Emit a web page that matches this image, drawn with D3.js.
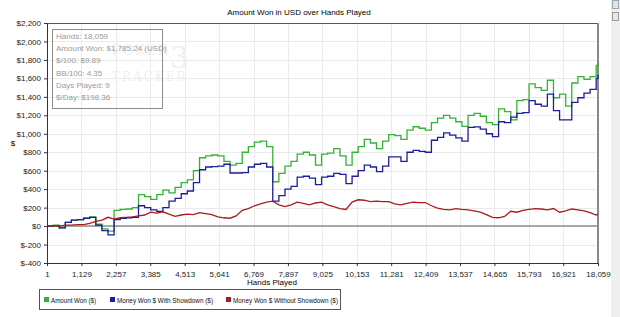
<!DOCTYPE html>
<html>
<head>
<meta charset="utf-8">
<script src="https://cdn.jsdelivr.net/npm/d3@7"></script>
<style>
  body { margin: 0; background: #fff; }
  text { font-family: "Liberation Sans", Arial, sans-serif; }
</style>
</head>
<body>
<div id="chart"></div>
<script>
// hands played (x grid, every 200 hands)
var hands = [1, 200, 400, 600, 800, 1000, 1200, 1400, 1600, 1800,
    2000, 2200, 2400, 2600, 2800, 3000, 3200, 3400, 3600, 3800,
    4000, 4200, 4400, 4600, 4800, 5000, 5200, 5400, 5600, 5800,
    6000, 6200, 6400, 6600, 6800, 7000, 7200, 7400, 7600, 7800,
    8000, 8200, 8400, 8600, 8800, 9000, 9200, 9400, 9600, 9800,
    10000, 10200, 10400, 10600, 10800, 11000, 11200, 11400, 11600, 11800,
    12000, 12200, 12400, 12600, 12800, 13000, 13200, 13400, 13600, 13800,
    14000, 14200, 14400, 14600, 14800, 15000, 15200, 15400, 15600, 15800,
    16000, 16200, 16400, 16600, 16800, 17000, 17200, 17400, 17600, 17800,
    18000, 18059];

var amountWon = [0, 10, -20, 40, 65, 70, 85, 100, 20, -30,
    -55, 170, 180, 185, 200, 340, 320, 290, 340, 390,
    360, 420, 470, 500, 600, 740, 760, 770, 760, 700,
    660, 680, 800, 860, 910, 920, 860, 480, 570, 650,
    700, 780, 800, 770, 660, 780, 790, 840, 760, 660,
    800, 860, 940, 900, 840, 920, 990, 980, 940, 1040,
    1076, 1060, 1040, 1120, 1170, 1200, 1170, 1130, 1080, 1200,
    1220, 1190, 1120, 1100, 1270, 1240, 1150, 1360, 1370, 1540,
    1500, 1470, 1580, 1390, 1430, 1300, 1550, 1620, 1590, 1620,
    1740, 1785.24];

var withShowdown = [0, 5, -20, 40, 65, 70, 85, 95, 10, -50,
    -95, 70, 85, 90, 95, 220, 200, 175, 160, 200,
    270, 300, 350, 380, 470, 610, 640, 645, 650, 670,
    575, 575, 580, 640, 670, 680, 640, 270, 330, 400,
    430, 530, 540, 520, 450, 530, 540, 570, 560, 460,
    540, 600, 660, 640, 590, 650, 750, 750, 700, 800,
    820, 810, 800, 930, 960, 1010, 985, 955, 920, 1070,
    1075, 1050, 1000, 970, 1130, 1120, 1180, 1220, 1230, 1360,
    1320, 1300, 1430, 1250, 1150, 1150, 1340, 1390, 1440, 1480,
    1600, 1640];

var withoutShowdown = [0, 5, 0, 10, 10, 15, 15, 30, 50, 65,
    95, 75, 90, 95, 100, 110, 120, 150, 140, 155,
    130, 105, 120, 130, 125, 145, 135, 125, 100, 90,
    85, 110, 170, 190, 220, 240, 260, 270, 230, 210,
    230, 260, 245, 230, 250, 260, 230, 210, 190, 180,
    260, 285, 280, 265, 270, 265, 265, 240, 230, 245,
    260, 255, 255, 220, 195, 180, 175, 190, 180, 175,
    165, 150, 125, 95, 90, 105, 160, 150, 170, 180,
    190, 185, 175, 190, 150, 165, 185, 175, 165, 145,
    120, 130];

var seriesNames = ["Amount Won ($)", "Money Won $ With Showdown ($)", "Money Won $ Without Showdown ($)"];
var seriesColors = ["#33b233", "#1c1c9c", "#a81c1c"];

var xTicks = [1, 1129, 2257, 3385, 4513, 5641, 6769, 7897, 9025, 10153,
    11281, 12409, 13537, 14665, 15793, 16921, 18059];
var yTicks = [-400, -200, 0, 200, 400, 600, 800, 1000, 1200, 1400, 1600, 1800, 2000, 2200];

var infoLines = ["Hands: 18,059", "Amount Won: $1,785.24 (USD)", "$/100: $9.89",
    "BB/100: 4.35", "Days Played: 9", "$/Day: $198.36"];

function drawChart() {
    var svg = d3.select("#chart")
        .append("svg")
        .attr("width", 620)
        .attr("height", 317)
        .style("display", "block")
        .style("background-color", "white");

    var x = d3.scaleLinear().domain([1, 18059]).range([47, 598]);
    var y = d3.scaleLinear().domain([-400, 2200]).range([263, 23]);

    // right side panel
    svg.append("rect").attr("x", 611).attr("y", 0).attr("width", 9).attr("height", 317)
        .style("fill", "#efefef");
    svg.append("rect").attr("x", 612.5).attr("y", 0.5).attr("width", 6).attr("height", 8)
        .style("fill", "#e4e4e4").style("stroke", "#9aa4b0");
    svg.append("rect").attr("x", 612.5).attr("y", 12.5).attr("width", 6).attr("height", 8)
        .style("fill", "#e8e8e8").style("stroke", "#9a9a9a");

    // title
    svg.append("text").attr("x", 299).attr("y", 15).attr("text-anchor", "middle")
        .attr("font-size", 8).attr("fill", "#000")
        .text("Amount Won in USD over Hands Played");

    // grid
    svg.append("g").selectAll("line").data(xTicks.slice(1, -1)).join("line")
        .attr("x1", d => Math.round(x(d)) + 0.5).attr("x2", d => Math.round(x(d)) + 0.5)
        .attr("y1", y(2200)).attr("y2", y(-400))
        .style("stroke", "#ebebeb").style("stroke-width", 1);
    svg.append("g").selectAll("line").data(yTicks.slice(1, -1)).join("line")
        .attr("x1", x(1)).attr("x2", x(18059))
        .attr("y1", d => Math.round(y(d)) + 0.5).attr("y2", d => Math.round(y(d)) + 0.5)
        .style("stroke", "#ebebeb").style("stroke-width", 1);

    // watermark (logo, very faint)
    var wm = svg.append("g").style("fill", "#efefef");
    wm.append("text").attr("x", 112).attr("y", 55).style("font-family", "'DejaVu Serif', serif")
        .attr("font-size", 14).attr("letter-spacing", 1).text("POKER");
    wm.append("text").attr("x", 170).attr("y", 68).style("font-family", "'DejaVu Serif', serif")
        .attr("font-size", 30).text("3");
    wm.append("text").attr("x", 112).attr("y", 81).style("font-family", "'DejaVu Serif', serif")
        .attr("font-size", 12).attr("letter-spacing", 2).text("TRACKER");

    // zero line
    svg.append("line").attr("x1", x(1)).attr("x2", x(18059))
        .attr("y1", y(0)).attr("y2", y(0))
        .style("stroke", "#8c8c8c").style("stroke-width", 1.5);

    // plot frame
    svg.append("line").attr("x1", x(1)).attr("x2", x(18059) + 1).attr("y1", 23.5).attr("y2", 23.5)
        .style("stroke", "#555").style("stroke-width", 1);
    svg.append("line").attr("x1", x(18059)).attr("x2", x(18059)).attr("y1", 23).attr("y2", 264)
        .style("stroke", "#8a8a8a").style("stroke-width", 2);

    // series
    var allSeries = [amountWon, withShowdown, withoutShowdown];
    allSeries.forEach((vals, i) => {
        var line = d3.line()
            .x((d, j) => x(hands[j]))
            .y(d => y(d))
            .curve(i < 2 ? d3.curveStepAfter : d3.curveLinear);
        svg.append("path")
            .datum(vals)
            .attr("d", line)
            .style("fill", "none")
            .style("stroke", seriesColors[i])
            .style("stroke-width", 1.3);
    });

    // axes
    var xAxis = d3.axisBottom(x).tickValues(xTicks).tickFormat(d3.format(",")).tickSize(3).tickSizeOuter(0);
    var gx = svg.append("g").attr("transform", "translate(0," + y(-400) + ")").call(xAxis);
    gx.select(".domain").style("stroke", "#333");
    gx.selectAll(".tick line").style("stroke", "#333");
    gx.selectAll("text").attr("font-size", 8).attr("fill", "#222").attr("dy", "0.95em");

    var yAxis = d3.axisLeft(y).tickValues(yTicks)
        .tickFormat(d => "$" + (d < 0 ? "-" : "") + d3.format(",")(Math.abs(d)))
        .tickSize(3).tickSizeOuter(0);
    var gy = svg.append("g").attr("transform", "translate(" + x(1) + ",0)").call(yAxis);
    gy.select(".domain").style("stroke", "#333");
    gy.selectAll(".tick line").style("stroke", "#333");
    gy.selectAll("text").attr("font-size", 8).attr("fill", "#222");

    // axis titles
    svg.append("text").attr("x", 13).attr("y", 146).attr("text-anchor", "middle")
        .attr("font-size", 8).text("$");
    svg.append("text").attr("x", 272).attr("y", 285).attr("text-anchor", "middle")
        .attr("font-size", 8).text("Hands Played");

    // info box
    svg.append("rect").attr("x", 52.5).attr("y", 29.5).attr("width", 110).attr("height", 79)
        .style("fill", "none").style("stroke", "#8c8c8c");
    svg.append("g").selectAll("text").data(infoLines).join("text")
        .attr("x", 56).attr("y", (d, i) => 39 + i * 12.2)
        .attr("font-size", 8).attr("fill", "#9a9a9a")
        .text(d => d);

    // legend
    svg.append("rect").attr("x", 39.5).attr("y", 289.5).attr("width", 301).attr("height", 20)
        .style("fill", "white").style("stroke", "#555");
    var legendX = [44, 110, 226];
    var legendW = [45, 96, 105];
    seriesNames.forEach((name, i) => {
        svg.append("rect").attr("x", legendX[i]).attr("y", 297).attr("width", 5).attr("height", 5)
            .style("fill", seriesColors[i]);
        svg.append("text").attr("x", legendX[i] + 7).attr("y", 303)
            .attr("font-size", 7.5).attr("fill", "#111")
            .attr("textLength", legendW[i]).attr("lengthAdjust", "spacingAndGlyphs")
            .text(name);
    });
}

window.onload = drawChart();
</script>
</body>
</html>
